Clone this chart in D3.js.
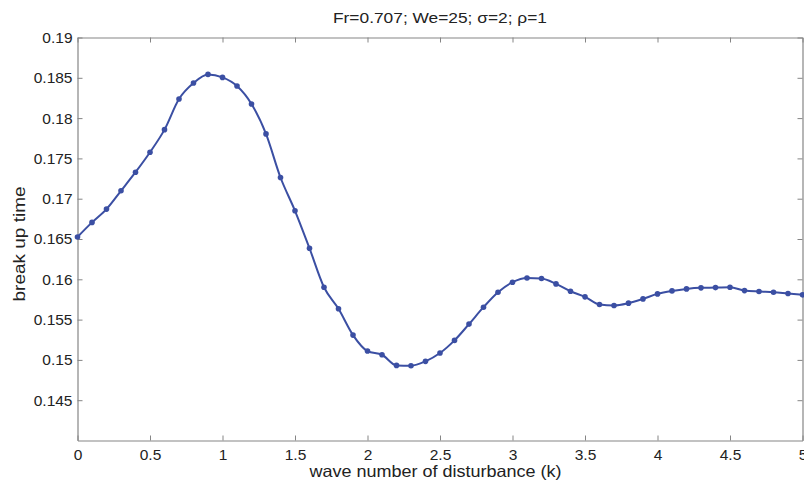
<!DOCTYPE html>
<html><head><meta charset="utf-8">
<script src="https://cdn.jsdelivr.net/npm/d3@7"></script>
<style>
html,body{margin:0;padding:0;background:#fff;}
svg{display:block;font-family:"Liberation Sans",Arial,Helvetica,sans-serif;}
</style></head>
<body><svg id="chart" width="804" height="482"></svg>
<script>
const kValues = d3.range(0, 51).map(i => +(i * 0.1).toFixed(1));
const breakUpTime = [
  0.16525, 0.16706, 0.16871, 0.17098, 0.17329, 0.17577, 0.17857, 0.18237, 0.18435, 0.18542,
  0.18505, 0.18398, 0.18175, 0.17804, 0.17263, 0.16850, 0.16385, 0.15902, 0.15634, 0.15308,
  0.15110, 0.15064, 0.14932, 0.14928, 0.14982, 0.15085, 0.15242, 0.15444, 0.15654, 0.15840,
  0.15964, 0.16017, 0.16009, 0.15943, 0.15852, 0.15782, 0.15687, 0.15675, 0.15704, 0.15757,
  0.15819, 0.15856, 0.15881, 0.15894, 0.15897, 0.15902, 0.15860, 0.15848, 0.15840, 0.15823,
  0.15807
];
const xTicks = [0, 0.5, 1, 1.5, 2, 2.5, 3, 3.5, 4, 4.5, 5];
const yTicks = [0.145, 0.15, 0.155, 0.16, 0.165, 0.17, 0.175, 0.18, 0.185, 0.19];
const titleText = "Fr=0.707; We=25; \u03C3=2; \u03C1=1";
const xLabel = "wave number of disturbance (k)";
const yLabel = "break up time";

const svg = d3.select("#chart");
const m = {left: 77.5, right: 802.5, top: 37.5, bottom: 440.5};
const x = d3.scaleLinear().domain([0, 5]).range([m.left, m.right]);
const y = d3.scaleLinear().domain([0.14, 0.19]).range([m.bottom, m.top]);
const axisColor = "#858585";
const fmt = d3.format("~g");

function styleAxis(g, labels) {
  g.select(".domain").attr("stroke", axisColor).attr("stroke-width", 1.2);
  g.selectAll(".tick line").attr("stroke", axisColor).attr("stroke-width", 1);
  g.selectAll(".tick text").attr("fill", "#222").style("font-size", "15.5px")
    .style("font-family", "Liberation Sans, Arial, sans-serif");
  if (!labels) g.selectAll(".tick text").remove();
}

const gx = svg.append("g").attr("transform", `translate(0,${m.bottom})`)
  .call(d3.axisBottom(x).tickValues(xTicks).tickFormat(fmt).tickSizeInner(-5).tickSizeOuter(0).tickPadding(8));
styleAxis(gx, true);
const gxt = svg.append("g").attr("transform", `translate(0,${m.top})`)
  .call(d3.axisTop(x).tickValues(xTicks).tickSizeInner(-5).tickSizeOuter(0));
styleAxis(gxt, false);
const gy = svg.append("g").attr("transform", `translate(${m.left},0)`)
  .call(d3.axisLeft(y).tickValues(yTicks).tickFormat(fmt).tickSizeInner(-5).tickSizeOuter(0).tickPadding(5));
styleAxis(gy, true);
const gyr = svg.append("g").attr("transform", `translate(${m.right},0)`)
  .call(d3.axisRight(y).tickValues(yTicks).tickSizeInner(-5).tickSizeOuter(0));
styleAxis(gyr, false);

const lineColor = "#3b4fa3";
const data = kValues.map((k, i) => [k, breakUpTime[i]]);
svg.append("path").datum(data)
  .attr("fill", "none").attr("stroke", lineColor).attr("stroke-width", 2)
  .attr("d", d3.line().x(d => x(d[0])).y(d => y(d[1])).curve(d3.curveMonotoneX));
svg.append("g").selectAll("circle").data(data).join("circle")
  .attr("cx", d => x(d[0])).attr("cy", d => y(d[1])).attr("r", 2.8).attr("fill", lineColor);

svg.append("text").attr("x", 333).attr("y", 23).attr("text-anchor", "start")
  .attr("textLength", 214).attr("lengthAdjust", "spacingAndGlyphs")
  .style("font-size", "15.5px").attr("fill", "#222").text(titleText);
svg.append("text").attr("x", 309.5).attr("y", 477).attr("text-anchor", "start")
  .attr("textLength", 252).attr("lengthAdjust", "spacingAndGlyphs")
  .style("font-size", "16.5px").attr("fill", "#222").text(xLabel);
svg.append("text").attr("transform", `translate(25,${244 + 57.5}) rotate(-90)`)
  .attr("text-anchor", "start").attr("textLength", 115).attr("lengthAdjust", "spacingAndGlyphs")
  .style("font-size", "16px").attr("fill", "#222").text(yLabel);
</script></body></html>
